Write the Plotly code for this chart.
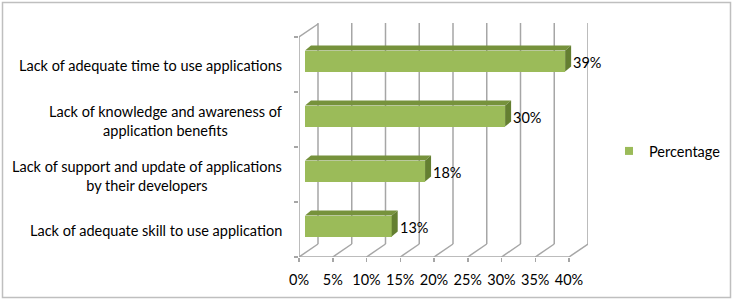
import plotly.graph_objects as go

# ---- data ----
categories = [
    "Lack of adequate skill to use application",
    "Lack of support and update of applications<br>by their developers",
    "Lack of knowledge and awareness of<br>application benefits",
    "Lack of adequate time to use applications",
]
percentages = [13, 18, 30, 39]
tick_values = [0, 5, 10, 15, 20, 25, 30, 35, 40]
tick_labels = [f"{v}%" for v in tick_values]
series_name = "Percentage"

# ---- geometry (pixels) ----
W, H = 733, 302
PL, PR = 299, 588          # plot area left/right (front 0% .. back 40%)
PT, PB = 23, 257           # plot area top/bottom
PX_PCT = 6.75              # px per % on front frame
PX_CAT = 55.0              # px per category
DEPTH_X, DEPTH_Y = 19, 13  # wall depth offset in px
BAR_PX_PCT = 6.67
BAR_X0 = 305               # bar front-face origin (px)
BAR_SHIFT_Y = 3.5          # bar plane shifted up (px)
BAR_H = 21                 # front face height px
BAR_DX, BAR_DY = 6, 5      # bar depth px

FONT = "Lato, Carlito, Calibri, sans-serif"
FS = 14.5
GRID = "#A6A6A6"
FRONT = "#9BBB59"
TOP = "#76923C"
SIDE = "#647F31"

x_max = (PR - PL) / PX_PCT
y_min = -0.5
y_max = y_min + (PB - PT) / PX_CAT
dx = DEPTH_X / PX_PCT
dy = DEPTH_Y / PX_CAT
y_front_top = y_min + len(categories)

x2_min = -(BAR_X0 - PL) / BAR_PX_PCT
x2_max = (PR - BAR_X0) / BAR_PX_PCT
dshift = BAR_SHIFT_Y / PX_CAT
bw = BAR_H / PX_CAT
bdx = BAR_DX / BAR_PX_PCT
bdy = BAR_DY / PX_CAT

ypos = list(range(len(categories)))

fig = go.Figure()
fig.add_trace(go.Bar(
    x=percentages, y=ypos, orientation="h", width=bw,
    marker=dict(color=FRONT, line=dict(width=0)),
    xaxis="x2", yaxis="y2", showlegend=False, hoverinfo="skip",
))
fig.add_trace(go.Scatter(
    x=[None], y=[None], mode="markers", name=series_name,
    marker=dict(symbol="square", size=8, color=FRONT),
    showlegend=True,
))

shapes = []
gl = dict(color=GRID, width=1.5)
# back wall verticals and floor diagonals
for v in tick_values:
    shapes.append(dict(type="line", xref="x", yref="y", x0=v + dx, x1=v + dx,
                       y0=y_min + dy, y1=y_max, line=gl, layer="below"))
    shapes.append(dict(type="line", xref="x", yref="y", x0=v, x1=v + dx,
                       y0=y_min, y1=y_min + dy, line=gl, layer="below"))
# front floor edge
shapes.append(dict(type="line", xref="x", yref="y", x0=0, x1=tick_values[-1],
                   y0=y_min, y1=y_min, line=gl, layer="below"))
# left wall front edge and top diagonal
shapes.append(dict(type="line", xref="x", yref="y", x0=0, x1=0,
                   y0=y_min, y1=y_front_top, line=gl, layer="below"))
shapes.append(dict(type="line", xref="x", yref="y", x0=0, x1=dx,
                   y0=y_front_top, y1=y_front_top + dy, line=gl, layer="below"))

# 3D bar faces
for yi, v in zip(ypos, percentages):
    t = yi + bw / 2
    b = yi - bw / 2
    shapes.append(dict(type="path", xref="x2", yref="y2",
                       path=f"M0,{t} L{v},{t} L{v + bdx},{t + bdy} L{bdx},{t + bdy} Z",
                       fillcolor=TOP, line=dict(width=0)))
    shapes.append(dict(type="path", xref="x2", yref="y2",
                       path=f"M{v},{b} L{v},{t} L{v + bdx},{t + bdy} L{v + bdx},{b + bdy} Z",
                       fillcolor=SIDE, line=dict(width=0)))

# outer chart border
def px_to_paper_x(px):
    return (px - PL) / (PR - PL)

def px_to_paper_y(py):
    return (PB - py) / (PB - PT)

shapes.append(dict(type="rect", xref="paper", yref="paper",
                   x0=px_to_paper_x(2.5), x1=px_to_paper_x(730.5),
                   y0=px_to_paper_y(297.5), y1=px_to_paper_y(2.5),
                   line=dict(color="#BFBFBF", width=1.5), layer="below"))

annotations = []
for yi, c in zip(ypos, categories):
    annotations.append(dict(xref="paper", yref="y", x=px_to_paper_x(284), y=yi,
                            xanchor="right", yanchor="middle", align="center",
                            text=c, showarrow=False, yshift=-1,
                            font=dict(family=FONT, size=FS, color="#000000")))
for yi, v in zip(ypos, percentages):
    annotations.append(dict(xref="x2", yref="y2", x=v, y=yi, xanchor="left",
                            yanchor="middle", text=f"{v}%", showarrow=False,
                            xshift=BAR_DX, yshift=-1,
                            font=dict(family=FONT, size=FS, color="#000000")))

fig.update_layout(
    width=W, height=H,
    margin=dict(l=PL, r=W - PR, t=PT, b=H - PB, pad=0),
    paper_bgcolor="white", plot_bgcolor="white",
    xaxis=dict(range=[0, x_max], tickvals=tick_values, ticktext=tick_labels,
               showgrid=False, zeroline=False, showline=False,
               ticks="outside", ticklen=4, tickcolor=GRID, tickwidth=1.5,
               ticklabelstandoff=6,
               tickfont=dict(family=FONT, size=FS, color="#000000"),
               fixedrange=True),
    yaxis=dict(range=[y_min, y_max],
               tickvals=[y_min + i for i in range(len(categories) + 1)],
               showticklabels=False, showgrid=False, zeroline=False, showline=False,
               ticks="outside", ticklen=4, tickcolor=GRID, tickwidth=1.5,
               fixedrange=True),
    xaxis2=dict(range=[x2_min, x2_max], overlaying="x", anchor="y2", visible=False),
    yaxis2=dict(range=[y_min - dshift, y_max - dshift], overlaying="y", anchor="x2", visible=False),
    showlegend=True,
    legend=dict(xref="container", yref="container", x=609 / W, y=1 - 151 / H,
                xanchor="left", yanchor="middle",
                font=dict(family=FONT, size=FS, color="#000000"),
                bgcolor="rgba(0,0,0,0)", itemwidth=30),
    shapes=shapes, annotations=annotations,
    bargap=0,
)

fig.write_html("out.html", config={"displayModeBar": False, "staticPlot": True},
               post_script="document.body.style.margin='0px';document.body.style.padding='0px';")
